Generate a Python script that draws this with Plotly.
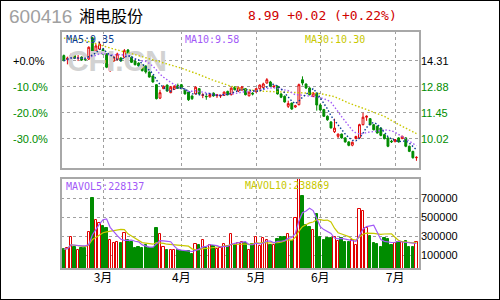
import plotly.graph_objects as go
import pandas as pd

# ---------------- data ----------------
day_idx = list(range(100))
month_tick_idx = [11, 33, 54, 72, 93]
month_labels = ["3月", "4月", "5月", "6月", "7月"]

open_ = [14.59, 14.38, 14.44, 14.59, 14.44, 14.51, 14.40, 14.40, 15.57, 14.83,
         14.95, 14.92, 14.68, 13.76, 14.29, 14.37, 14.46, 14.50, 14.90, 14.50,
         14.29, 14.18, 14.07, 14.02, 13.69, 13.47, 12.99, 12.25, 12.77, 12.97,
         12.55, 12.74, 12.94, 12.99, 12.71, 12.59, 12.37, 12.48, 12.77, 12.40,
         12.36, 12.32, 12.53, 12.38, 12.37, 12.40, 12.62, 12.44, 12.86, 12.64,
         12.70, 12.77, 12.38, 12.52, 12.60, 12.77, 12.83, 13.08, 13.14, 12.86,
         12.90, 12.48, 12.35, 11.80, 11.98, 11.76, 11.89, 13.26, 13.03, 12.81,
         12.35, 12.53, 11.87, 11.62, 11.25, 10.94, 10.40, 10.15, 10.27, 10.06,
         9.84, 9.66, 10.03, 10.06, 10.79, 11.20, 11.12, 10.79, 10.70, 10.60,
         10.24, 10.06, 9.88, 9.85, 10.06, 10.02, 10.06, 9.60, 9.32, 8.97]
high = [14.65, 14.53, 14.70, 14.64, 14.62, 14.55, 14.46, 15.10, 15.62, 15.25,
        15.35, 15.00, 14.72, 14.20, 14.58, 14.75, 14.50, 14.95, 14.95, 14.55,
        14.33, 14.22, 14.10, 14.05, 13.72, 13.50, 13.02, 12.71, 12.95, 13.00,
        12.92, 12.96, 13.05, 13.03, 12.78, 12.62, 12.40, 12.90, 12.80, 12.52,
        12.40, 12.50, 12.56, 12.48, 12.44, 12.62, 12.66, 12.85, 12.90, 12.90,
        12.92, 12.80, 12.62, 12.58, 12.80, 13.00, 13.10, 13.35, 13.20, 12.98,
        12.95, 12.52, 12.40, 12.11, 12.00, 11.88, 13.05, 13.45, 13.05, 12.85,
        12.58, 12.56, 11.95, 11.66, 11.30, 10.98, 11.12, 10.30, 10.30, 10.10,
        9.88, 9.86, 10.18, 10.84, 11.45, 11.30, 11.15, 10.82, 10.75, 10.65,
        10.27, 10.10, 9.96, 10.00, 10.10, 10.18, 10.10, 9.64, 9.35, 9.05]
low = [14.28, 14.11, 14.40, 14.40, 14.29, 14.30, 14.29, 14.35, 14.80, 14.78,
       14.90, 14.62, 13.90, 13.70, 14.25, 14.33, 14.25, 14.45, 14.52, 14.18,
       14.05, 13.95, 13.72, 13.60, 13.38, 13.10, 12.18, 12.20, 12.75, 12.60,
       12.52, 12.70, 12.76, 12.74, 12.45, 12.10, 12.15, 12.45, 12.45, 12.25,
       12.16, 12.28, 12.33, 12.26, 12.26, 12.37, 12.40, 12.40, 12.68, 12.58,
       12.66, 12.40, 12.34, 12.40, 12.55, 12.72, 12.80, 13.05, 12.88, 12.80,
       12.45, 12.25, 12.00, 11.71, 11.60, 11.72, 11.85, 12.95, 12.75, 12.40,
       12.30, 11.56, 11.55, 11.22, 11.00, 10.58, 10.33, 10.05, 10.02, 9.80,
       9.60, 9.60, 9.98, 10.02, 10.75, 11.00, 10.75, 10.48, 10.30, 10.15,
       9.98, 9.55, 9.78, 9.83, 9.80, 10.00, 9.55, 9.28, 8.92, 8.80]
close = [14.31, 14.45, 14.62, 14.44, 14.47, 14.35, 14.37, 15.05, 14.84, 15.12,
         15.23, 14.68, 13.95, 14.13, 14.51, 14.68, 14.30, 14.86, 14.57, 14.22,
         14.09, 14.02, 13.76, 13.69, 13.41, 13.14, 12.22, 12.55, 12.90, 12.64,
         12.85, 12.90, 12.80, 12.77, 12.48, 12.16, 12.22, 12.85, 12.48, 12.43,
         12.33, 12.45, 12.37, 12.42, 12.40, 12.58, 12.44, 12.80, 12.71, 12.82,
         12.86, 12.44, 12.58, 12.48, 12.77, 12.97, 13.03, 13.26, 12.90, 12.90,
         12.48, 12.30, 12.04, 11.95, 11.65, 11.83, 12.99, 13.08, 12.81, 12.44,
         12.53, 11.87, 11.60, 11.25, 11.06, 10.61, 10.60, 10.27, 10.06, 9.84,
         9.65, 9.82, 10.14, 10.79, 11.20, 11.25, 10.79, 10.51, 10.33, 10.20,
         10.02, 9.60, 9.85, 9.97, 9.84, 10.15, 9.60, 9.32, 8.97, 8.99]
volume = [168000, 176000, 295000, 193000, 158000, 182000, 182000, 350000, 708000, 474000,
          439000, 414000, 393000, 263000, 228000, 245000, 228000, 333000, 263000, 245000,
          182000, 193000, 176000, 211000, 176000, 182000, 393000, 323000, 193000, 158000,
          158000, 158000, 158000, 147000, 147000, 147000, 112000, 218000, 211000, 263000,
          176000, 211000, 204000, 168000, 182000, 218000, 204000, 323000, 211000, 228000,
          240000, 230000, 158000, 221000, 298000, 200000, 281000, 263000, 211000, 211000,
          274000, 291000, 298000, 326000, 256000, 491000, 950000, 726000, 421000, 397000,
          368000, 537000, 298000, 263000, 281000, 281000, 298000, 256000, 281000, 245000,
          245000, 263000, 211000, 590000, 572000, 386000, 309000, 235000, 221000, 193000,
          284000, 274000, 211000, 235000, 245000, 245000, 256000, 193000, 193000, 245000]
ma30_idx = [0, 5, 9, 14, 19, 24, 29, 33, 37, 42, 47, 51, 56, 61, 66, 72, 76, 80, 85, 90, 94, 99]
ma30_val = [15.55, 15.48, 15.25, 14.95, 14.70, 14.42, 14.12, 13.90, 13.62, 13.23, 12.90,
            12.72, 12.63, 12.60, 12.55, 12.50, 12.33, 11.98, 11.62, 11.25, 10.80, 10.30]

base_price = 14.31
pct_levels = [0, -10, -20, -30]
vol_ticks = [100000, 300000, 500000, 700000]

stock_code = "600416"
stock_name = "湘电股份"
last_price = 8.99
change = 0.02
change_pct = 0.22
ma5_last, ma10_last, ma30_last = 9.35, 9.58, 10.30
mavol5_last, mavol10_last = 228137, 238869

# ---------------- styles / layout ----------------
W, H = 500, 300
PX_L, PX_R = 61, 420
PRICE_TOP, PRICE_BOT = 31, 169
VOL_TOP, VOL_BOT = 178, 269
RED = "#e00000"
GREEN = "#008c00"
MA5C = "#0b3d91"
MA10C = "#a259f7"
MA30C = "#c8c800"
GRID = "#a0a0a0"
BORDER = "#a8a8a8"

X_RANGE = [-0.8, 100.0]
P_RANGE = [14.31 - (PRICE_BOT - 60.7) / 18.17, 14.31 + (60.7 - PRICE_TOP) / 18.17]
V_RANGE = [-42100, 915800]


def fx(px):
    return px / W


def fy(py):
    return 1 - py / H


s_close = pd.Series(close)
s_vol = pd.Series(volume)
ma5 = s_close.rolling(5, min_periods=1).mean()
ma10 = s_close.rolling(10, min_periods=1).mean()
mavol5 = s_vol.rolling(5, min_periods=1).mean()
mavol10 = s_vol.rolling(10, min_periods=1).mean()

up = [c >= o for o, c in zip(open_, close)]
bar_fill = ["white" if u else GREEN for u in up]
bar_line = [RED if u else GREEN for u in up]

fig = go.Figure()

# watermark (behind candles)
fig.add_trace(go.Scatter(
    x=[14.9], y=[14.13], mode="text", text=["<b>CFI.CN</b>"],
    textfont=dict(family="Liberation Sans", size=30, color="#d2d2d2"),
    hoverinfo="skip", xaxis="x", yaxis="y", showlegend=False))

fig.add_trace(go.Candlestick(
    x=day_idx, open=open_, high=high, low=low, close=close,
    increasing=dict(line=dict(color=RED, width=1), fillcolor="white"),
    decreasing=dict(line=dict(color=GREEN, width=1), fillcolor=GREEN),
    whiskerwidth=0, xaxis="x", yaxis="y", showlegend=False))

fig.add_trace(go.Scatter(x=ma30_idx, y=ma30_val, mode="lines",
                         line=dict(color=MA30C, width=1.4, dash="1.5px,2px"),
                         xaxis="x", yaxis="y", showlegend=False))
fig.add_trace(go.Scatter(x=day_idx, y=ma10, mode="lines",
                         line=dict(color=MA10C, width=1.4, dash="1.5px,2px"),
                         xaxis="x", yaxis="y", showlegend=False))
fig.add_trace(go.Scatter(x=day_idx, y=ma5, mode="lines",
                         line=dict(color=MA5C, width=1.4, dash="1.5px,2px"),
                         xaxis="x", yaxis="y", showlegend=False))

fig.add_trace(go.Bar(
    x=day_idx, y=[v - V_RANGE[0] for v in volume], base=V_RANGE[0], width=0.66,
    marker=dict(color=bar_fill, line=dict(color=bar_line, width=1)),
    xaxis="x2", yaxis="y2", showlegend=False))
fig.add_trace(go.Scatter(x=day_idx, y=mavol10, mode="lines",
                         line=dict(color=MA30C, width=1.2),
                         xaxis="x2", yaxis="y2", showlegend=False))
fig.add_trace(go.Scatter(x=day_idx, y=mavol5, mode="lines",
                         line=dict(color=MA10C, width=1.2),
                         xaxis="x2", yaxis="y2", showlegend=False))

price_ticks = [base_price * (1 + p / 100) for p in pct_levels]
price_text = []
for p, v in zip(pct_levels, price_ticks):
    col = "#000000" if p == 0 else GREEN
    price_text.append(f'<span style="color:{col}">{v:.2f}</span>')

fig.update_layout(
    width=W, height=H, autosize=False,
    margin=dict(l=0, r=0, t=0, b=0),
    paper_bgcolor="white", plot_bgcolor="white",
    boxgap=0.25,
    xaxis=dict(domain=[fx(PX_L), fx(PX_R)], range=X_RANGE, anchor="y",
               tickvals=month_tick_idx, showticklabels=False, ticks="",
               showgrid=True, gridcolor=GRID, griddash="dot", gridwidth=1,
               zeroline=False, rangeslider=dict(visible=False), fixedrange=True),
    yaxis=dict(domain=[fy(PRICE_BOT), fy(PRICE_TOP)], range=P_RANGE, anchor="x",
               side="right", tickvals=price_ticks, ticktext=price_text,
               tickfont=dict(family="Liberation Sans", size=11),
               showgrid=True, gridcolor=GRID, griddash="dot", gridwidth=1,
               zeroline=False, ticks=""),
    xaxis2=dict(domain=[fx(PX_L), fx(PX_R)], range=X_RANGE, anchor="y2",
                tickvals=month_tick_idx, ticktext=month_labels,
                tickfont=dict(family="Noto Sans CJK SC", size=12, color="#000"),
                showgrid=True, gridcolor=GRID, griddash="dot", gridwidth=1,
                zeroline=False, ticks=""),
    yaxis2=dict(domain=[fy(VOL_BOT), fy(VOL_TOP)], range=V_RANGE, anchor="x2",
                side="right", tickvals=vol_ticks, ticktext=[str(v) for v in vol_ticks],
                tickfont=dict(family="Liberation Sans", size=11, color="#000"),
                showgrid=True, gridcolor=GRID, griddash="dot", gridwidth=1,
                zeroline=False, ticks=""),
    bargap=0,
)

shapes = [
    dict(type="rect", xref="paper", yref="paper", x0=0, x1=1, y0=0, y1=1,
         line=dict(color="#000000", width=2)),
    dict(type="rect", xref="paper", yref="paper", x0=fx(PX_L), x1=fx(PX_R),
         y0=fy(PRICE_BOT), y1=fy(PRICE_TOP), line=dict(color=BORDER, width=2)),
    dict(type="rect", xref="paper", yref="paper", x0=fx(PX_L), x1=fx(PX_R),
         y0=fy(VOL_BOT), y1=fy(VOL_TOP), line=dict(color=BORDER, width=2)),
]
fig.update_layout(shapes=shapes)

ann = []
# left percent labels
for p, v in zip(pct_levels, price_ticks):
    txt = f"{p:+.1f}%" if p == 0 else f"{p:.1f}%"
    ann.append(dict(xref="paper", yref="y", x=fx(11), y=v, text=txt, showarrow=False,
                    xanchor="left", yanchor="middle",
                    font=dict(family="Liberation Sans", size=11,
                              color="#000000" if p == 0 else GREEN)))
# title
ann.append(dict(xref="paper", yref="paper", x=fx(7), y=fy(16), text=stock_code,
                showarrow=False, xanchor="left", yanchor="middle",
                font=dict(family="Liberation Sans", size=19, color="#a0a0a0")))
ann.append(dict(xref="paper", yref="paper", x=fx(77), y=fy(15), text=stock_name,
                showarrow=False, xanchor="left", yanchor="middle",
                font=dict(family="Noto Sans CJK SC", size=16, color="#000000")))
ann.append(dict(xref="paper", yref="paper", x=fx(246), y=fy(15),
                text=f"{last_price:.2f} {change:+.2f} ({change_pct:+.2f}%)",
                showarrow=False, xanchor="left", yanchor="middle",
                font=dict(family="DejaVu Sans Mono", size=13, color="#d00000")))
# MA legends
leg_font = "DejaVu Sans Mono"
for xpx, ypx, txt, col in [
    (64, 39, f"MA5:{ma5_last:.2f}", MA5C),
    (183, 39, f"MA10:{ma10_last:.2f}", MA10C),
    (303, 39, f"MA30:{ma30_last:.2f}", MA30C),
    (64, 186, f"MAVOL5:{mavol5_last}", MA10C),
    (243, 185, f"MAVOL10:{mavol10_last}", MA30C),
]:
    ann.append(dict(xref="paper", yref="paper", x=fx(xpx), y=fy(ypx), text=txt,
                    showarrow=False, xanchor="left", yanchor="middle",
                    font=dict(family=leg_font, size=10, color=col)))
fig.update_layout(annotations=ann)

fig.write_html("out.html")
